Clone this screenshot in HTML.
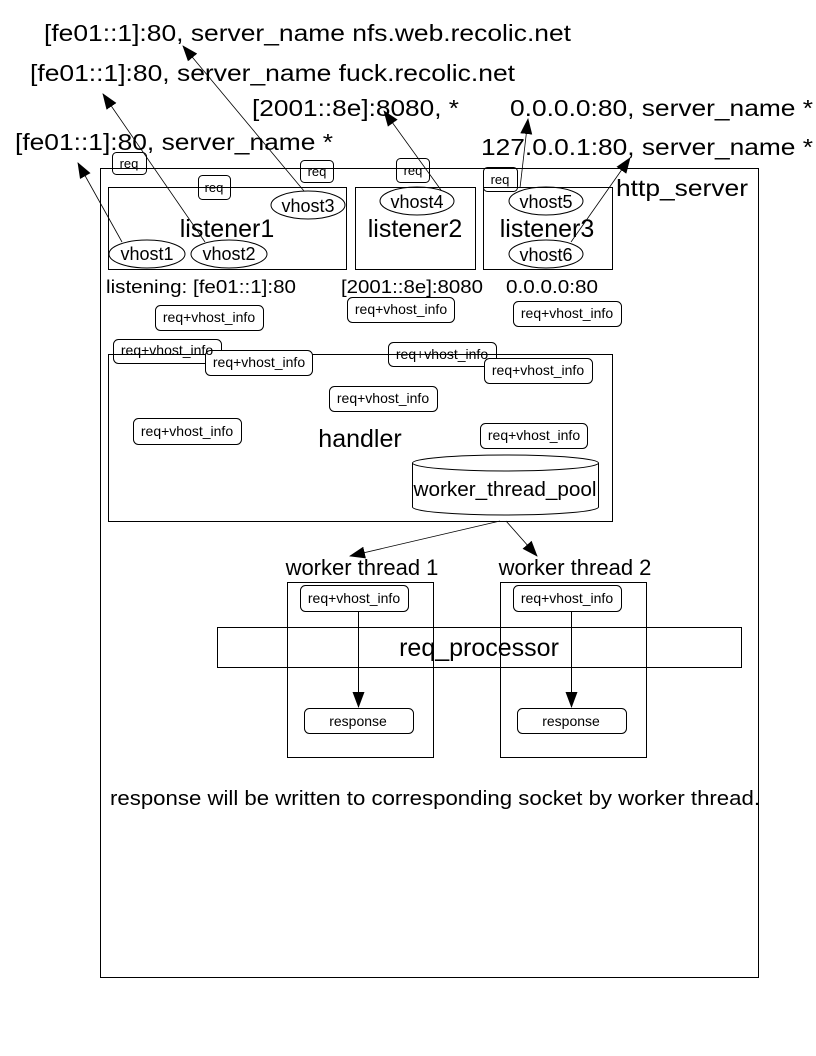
<!DOCTYPE html>
<html><head><meta charset="utf-8"><style>html,body{margin:0;padding:0;background:#fff}svg{display:block}svg text{font-family:"Liberation Sans",Arial,sans-serif}</style></head>
<body>
<svg width="816" height="1056" viewBox="0 0 816 1056" xmlns="http://www.w3.org/2000/svg" style='font-family:"Liberation Sans",sans-serif' fill="none" stroke="#000">
<defs>
<marker id="b" markerWidth="16" markerHeight="16" refX="15" refY="8" orient="auto" markerUnits="userSpaceOnUse" viewBox="0 0 16 16"><path d="M0,2 L16,8 L0,14 z" fill="#000" stroke="none"/></marker></defs>
<g fill="#000" stroke="none" font-size="23">
<text x="44" y="41" textLength="527" lengthAdjust="spacingAndGlyphs">[fe01::1]:80, server_name nfs.web.recolic.net</text>
<text x="30" y="81" textLength="485" lengthAdjust="spacingAndGlyphs">[fe01::1]:80, server_name fuck.recolic.net</text>
<text x="252" y="116" textLength="207" lengthAdjust="spacingAndGlyphs">[2001::8e]:8080, *</text>
<text x="510" y="116" textLength="303" lengthAdjust="spacingAndGlyphs">0.0.0.0:80, server_name *</text>
<text x="15" y="150" textLength="318" lengthAdjust="spacingAndGlyphs">[fe01::1]:80, server_name *</text>
<text x="481" y="155" textLength="332" lengthAdjust="spacingAndGlyphs">127.0.0.1:80, server_name *</text>
<text x="616" y="196" textLength="132" lengthAdjust="spacingAndGlyphs">http_server</text>
</g>
<rect x="100.5" y="168.5" width="658" height="809" stroke-width="1"/>
<rect x="108.5" y="187.5" width="238" height="82"/>
<rect x="355.5" y="187.5" width="120" height="82"/>
<rect x="483.5" y="187.5" width="129" height="82"/>
<g fill="#000" stroke="none" font-size="25" text-anchor="middle">
<text x="227" y="237">listener1</text><text x="415" y="237">listener2</text><text x="547" y="237">listener3</text>
</g>
<g stroke-width="1">
<ellipse cx="147" cy="254" rx="38" ry="14"/><ellipse cx="229" cy="254" rx="38" ry="14"/>
<ellipse cx="308" cy="205" rx="37" ry="14"/><ellipse cx="417" cy="201" rx="37" ry="14"/>
<ellipse cx="546" cy="201" rx="37" ry="14"/><ellipse cx="546" cy="254" rx="37" ry="14"/>
</g>
<g fill="#000" stroke="none" font-size="18" text-anchor="middle">
<text x="147" y="260">vhost1</text><text x="229" y="260">vhost2</text><text x="308" y="212">vhost3</text>
<text x="417" y="208">vhost4</text><text x="546" y="208">vhost5</text><text x="546" y="261">vhost6</text>
</g>
<g stroke-width="0.8" marker-end="url(#b)">
<line x1="122" y1="242" x2="78" y2="163"/>
<line x1="205" y1="242" x2="103" y2="94"/>
<line x1="304" y1="191" x2="183" y2="46"/>
<line x1="441" y1="190" x2="384" y2="111"/>
<line x1="520" y1="188" x2="528" y2="119"/>
<line x1="571" y1="242" x2="630" y2="158"/>
</g>
<g stroke-width="1">
<rect x="112.5" y="152.5" width="34" height="22" rx="4"/><rect x="198.5" y="175.5" width="32" height="24" rx="4"/>
<rect x="300.5" y="160.5" width="33" height="22" rx="4"/><rect x="396.5" y="158.5" width="33" height="24" rx="4"/>
<rect x="483.5" y="167.5" width="34" height="24" rx="4"/>
</g>
<g fill="#000" stroke="none" font-size="13" text-anchor="middle">
<text x="129" y="168">req</text><text x="214" y="192">req</text><text x="317" y="176">req</text><text x="413" y="175">req</text><text x="500" y="184">req</text>
</g>
<g fill="#000" stroke="none" font-size="18">
<text x="106" y="293" textLength="190" lengthAdjust="spacingAndGlyphs">listening: [fe01::1]:80</text>
<text x="341" y="293" textLength="142" lengthAdjust="spacingAndGlyphs">[2001::8e]:8080</text>
<text x="506" y="293" textLength="92" lengthAdjust="spacingAndGlyphs">0.0.0.0:80</text>
</g>
<rect x="108.5" y="354.5" width="504" height="167"/>
<text x="360" y="447" fill="#000" stroke="none" font-size="25" text-anchor="middle">handler</text>
<path d="M412.5,463 L412.5,507 A93,8 0 0 0 598.5,507 L598.5,463" fill="#fff"/>
<ellipse cx="505.5" cy="463" rx="93" ry="8" fill="#fff"/>
<text x="505" y="496" fill="#000" stroke="none" font-size="20" text-anchor="middle" textLength="183" lengthAdjust="spacingAndGlyphs">worker_thread_pool</text>
<g stroke-width="1" fill="#fff">
<rect x="155.5" y="305.5" width="108" height="25" rx="5"/>
<rect x="347.5" y="297.5" width="107" height="25" rx="5"/>
<rect x="513.5" y="301.5" width="108" height="25" rx="5"/>
<rect x="113.5" y="339.5" width="108" height="24" rx="5" fill="none"/>
<rect x="205.5" y="350.5" width="107" height="25" rx="5"/>
<rect x="388.5" y="342.5" width="108" height="24" rx="5" fill="none"/>
<rect x="484.5" y="358.5" width="108" height="25" rx="5"/>
<rect x="329.5" y="386.5" width="108" height="25" rx="5"/>
<rect x="133.5" y="418.5" width="108" height="26" rx="5"/>
<rect x="480.5" y="423.5" width="107" height="25" rx="5"/>
</g>
<g fill="#000" stroke="none" font-size="14" text-anchor="middle">
<text x="209" y="322">req+vhost_info</text><text x="401" y="314">req+vhost_info</text><text x="567" y="318">req+vhost_info</text>
<text x="167" y="355">req+vhost_info</text><text x="259" y="367">req+vhost_info</text><text x="442" y="359">req+vhost_info</text>
<text x="538" y="375">req+vhost_info</text><text x="383" y="403">req+vhost_info</text><text x="187" y="436">req+vhost_info</text>
<text x="534" y="440">req+vhost_info</text>
</g>
<g stroke-width="0.8" marker-end="url(#b)">
<line x1="500" y1="521" x2="350" y2="556"/>
<line x1="506" y1="521" x2="537" y2="556"/>
</g>
<g fill="#000" stroke="none" font-size="22" text-anchor="middle">
<text x="362" y="575">worker thread 1</text><text x="575" y="575">worker thread 2</text>
</g>
<rect x="287.5" y="582.5" width="146" height="175"/>
<rect x="500.5" y="582.5" width="146" height="175"/>
<rect x="217.5" y="627.5" width="524" height="40"/>
<text x="479" y="656" fill="#000" stroke="none" font-size="25" text-anchor="middle">req_processor</text>
<g stroke-width="1" fill="#fff">
<rect x="300.5" y="585.5" width="108" height="26" rx="5"/><rect x="513.5" y="585.5" width="108" height="26" rx="5"/>
<rect x="304.5" y="708.5" width="109" height="25" rx="5"/><rect x="517.5" y="708.5" width="109" height="25" rx="5"/>
</g>
<g fill="#000" stroke="none" font-size="14" text-anchor="middle">
<text x="354" y="603">req+vhost_info</text><text x="567" y="603">req+vhost_info</text>
<text x="358" y="726">response</text><text x="571" y="726">response</text>
</g>
<g stroke-width="1" marker-end="url(#b)">
<line x1="358.5" y1="612" x2="358.5" y2="707"/>
<line x1="571.5" y1="612" x2="571.5" y2="707"/>
</g>
<text x="110" y="805" fill="#000" stroke="none" font-size="20" textLength="650" lengthAdjust="spacingAndGlyphs">response will be written to corresponding socket by worker thread.</text>
</svg>
</body></html>
